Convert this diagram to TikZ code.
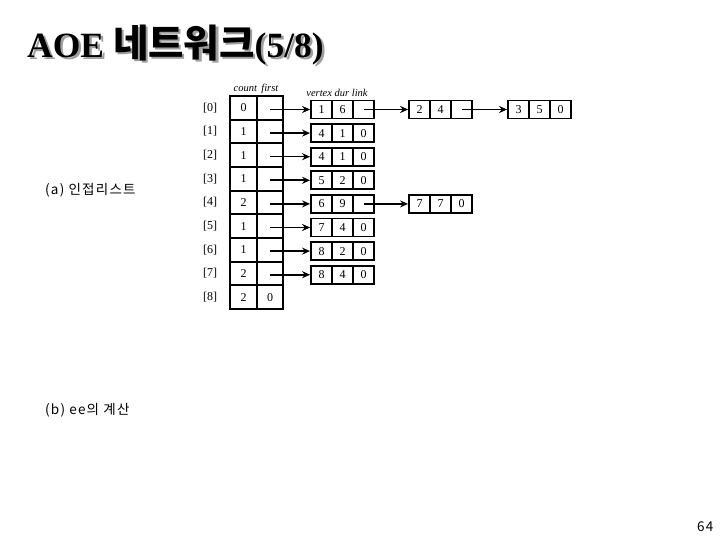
\documentclass[tikz,border=0pt]{standalone}
\usepackage{fontspec}
\setmainfont{Liberation Serif}
\newfontfamily\kofont{Noto Sans CJK KR}
\newfontfamily\kocap[LetterSpace=9]{Noto Sans CJK KR}
\usetikzlibrary{arrows.meta}

\tikzset{
  tcell/.style={draw, line width=1.8pt, minimum width=26.5pt, minimum height=23.67pt,
    inner sep=0pt, font=\fontsize{12}{12}\selectfont},
  lcell/.style={draw, line width=1.8pt, minimum width=21pt, minimum height=18pt,
    inner sep=0pt, font=\fontsize{12}{12}\selectfont},
  ptr/.style={-{Stealth[length=8pt,width=7pt]}, line width=1.6pt},
  hdr/.style={font=\fontsize{10.5}{10.5}\selectfont\itshape, inner sep=0pt},
  kotext/.style={font=\kocap\fontsize{13.5}{13.5}\selectfont, inner sep=0pt, anchor=west},
}

\begin{document}
\begin{tikzpicture}[x=1pt, y=-1pt]
    \useasboundingbox (0,0) rectangle (720,540);

    % Title with shadow
    \node[anchor=west, inner sep=0pt, text=gray!75] at (29.5,47.5)
      {\fontsize{35.5}{35.5}\selectfont\bfseries AOE {\kofont\fontsize{38.5}{38.5}\selectfont 네트워크}(5/8)};
    \node[anchor=west, inner sep=0pt] (title) at (27,45)
      {\fontsize{35.5}{35.5}\selectfont\bfseries AOE {\kofont\fontsize{38.5}{38.5}\selectfont 네트워크}(5/8)};

    % count / first table
    \node[hdr] (hcf) at (256,89) {count\, first};
    \foreach \c [count=\i from 0] in {0,1,1,1,2,1,1,2,2} {
        \node[tcell] (c\i) at (243.5,{107.8+23.67*\i}) {\c};
        \node[tcell] (f\i) at (270,{107.8+23.67*\i}) {};
        \node[font=\fontsize{12}{12}\selectfont] (r\i) at (210,{107.8+23.67*\i}) {[\i]};
    }
    \node[font=\fontsize{12}{12}\selectfont] at (f8) {0};

    % list nodes: name / left x / row / vertex / dur / link
    \node[hdr] (hvdl) at (337,93) {vertex dur link};
    \foreach \n/\x/\r/\a/\b/\c in {a0/311/0/1/6/{}, a1/311/1/4/1/0, a2/311/2/4/1/0,
        a3/311/3/5/2/0, a4/311/4/6/9/{}, a5/311/5/7/4/0, a6/311/6/8/2/0, a7/311/7/8/4/0,
        b0/409/0/2/4/{}, c0/508/0/3/5/0, b4/409/4/7/7/0} {
        \node[lcell] (\n-v) at ({\x+10.5},{109.5+23.6*\r}) {\a};
        \node[lcell] (\n-d) at ({\x+31.5},{109.5+23.6*\r}) {\b};
        \node[lcell] (\n-l) at ({\x+52.5},{109.5+23.6*\r}) {\c};
    }

    % pointers
    \foreach \i in {0,...,7}
        \draw[ptr] (f\i.center |- a\i-v.west) -- (a\i-v.west);
    \draw[ptr] (a0-l.center) -- (b0-v.west);
    \draw[ptr] (b0-l.center) -- (c0-v.west);
    \draw[ptr] (a4-l.center) -- (b4-v.west);

    % captions
    \node[kotext] (capa) at (45,190) {(a) 인접리스트};
    \node[kotext] (capb) at (45,410) {(b) ee의 계산};
    \node[kotext] (page) at (697,527) {64};
\end{tikzpicture}
\end{document}
